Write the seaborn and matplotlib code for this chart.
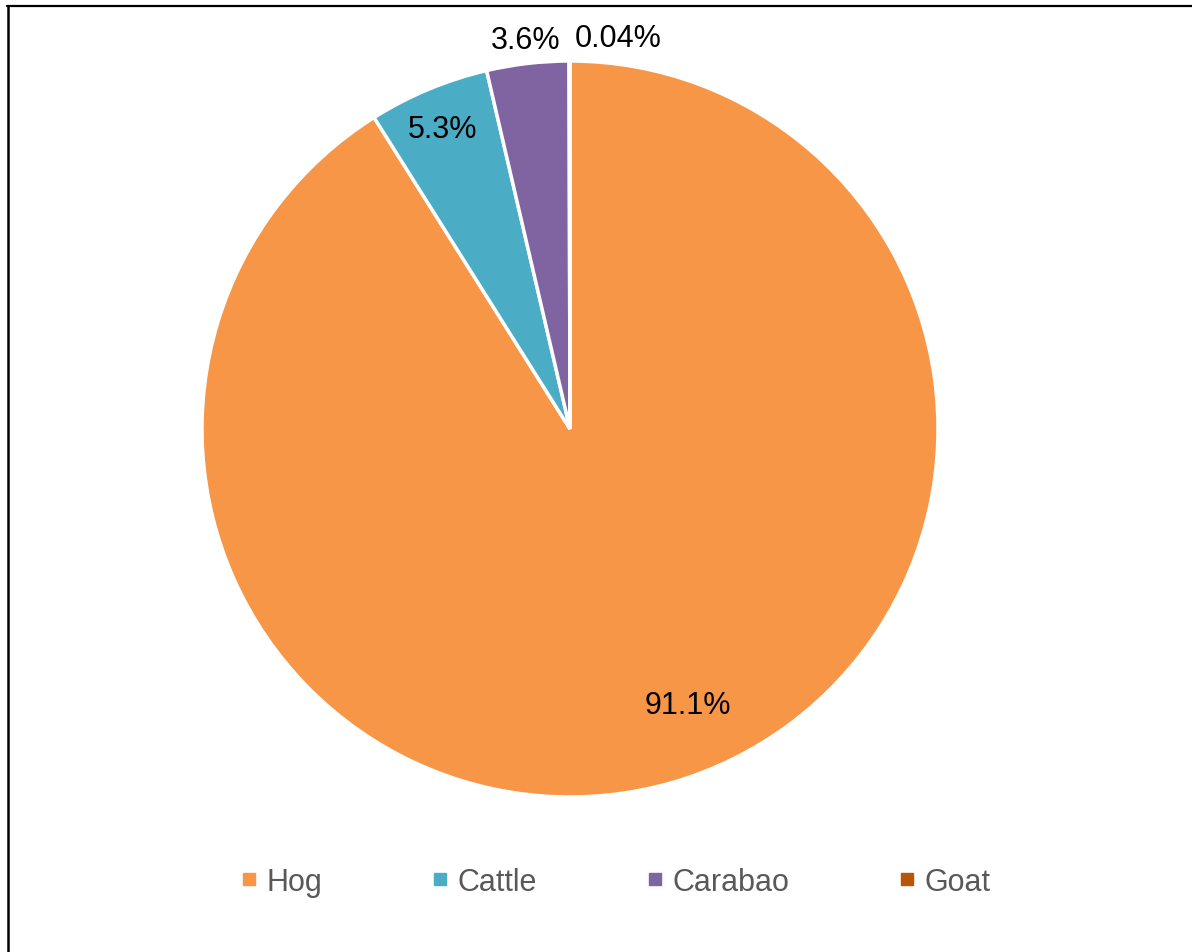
import matplotlib
matplotlib.use("Agg")
import matplotlib.pyplot as plt
from matplotlib.lines import Line2D
import seaborn as sns

# ---- data ----
categories = ["Hog", "Cattle", "Carabao", "Goat"]
shares = [91.1, 5.3, 3.6, 0.04]
share_labels = ["91.1%", "5.3%", "3.6%", "0.04%"]

# ---- style ----
sns.set_theme(style="white")
plt.rcParams['font.family'] = ['Liberation Sans', 'DejaVu Sans']
colors = ["#F79646", "#4BACC6", "#8064A2", "#B65708"]
label_pos = [(0.32, -0.750), (-0.345, 0.815), (-0.12, 1.057), (0.13, 1.062)]

W, H = 1192, 953
fig = plt.figure(figsize=(W / 100, H / 100), dpi=100)
fig.patch.set_facecolor("white")

cx, cy, r = 570, 430, 368
ax = fig.add_axes([(cx - r) / W, (H - cy - r) / H, 2 * r / W, 2 * r / H])
wedges, _ = ax.pie(shares, colors=colors, startangle=90, counterclock=False,
                   radius=1, wedgeprops=dict(edgecolor="white", linewidth=2.5))
ax.set_xlim(-1, 1)
ax.set_ylim(-1, 1)
ax.set_aspect("equal")
ax.axis("off")

for txt, (x, y) in zip(share_labels, label_pos):
    ax.text(x, y, txt, ha="center", va="center", fontsize=22, color="black",
            clip_on=False)

handles = [Line2D([0], [0], marker="s", linestyle="none", markersize=8,
                  markerfacecolor=c, markeredgecolor=c) for c in colors]
leg = fig.legend(handles, categories, loc="center", ncol=4,
                 bbox_to_anchor=(616 / W, 1 - 883 / H), frameon=False,
                 fontsize=22, handlelength=0.5, handletextpad=0.33,
                 columnspacing=3.6, labelcolor="#595959")

# frame lines (top and left)
fig.add_artist(Line2D([7 / W, 1], [1 - 6.5 / H, 1 - 6.5 / H], color="black",
                      linewidth=1.6, transform=fig.transFigure))
fig.add_artist(Line2D([8 / W, 8 / W], [0, 1 - 6.5 / H], color="black",
                      linewidth=1.8, transform=fig.transFigure))

fig.savefig("out.png", dpi=100, facecolor="white")
